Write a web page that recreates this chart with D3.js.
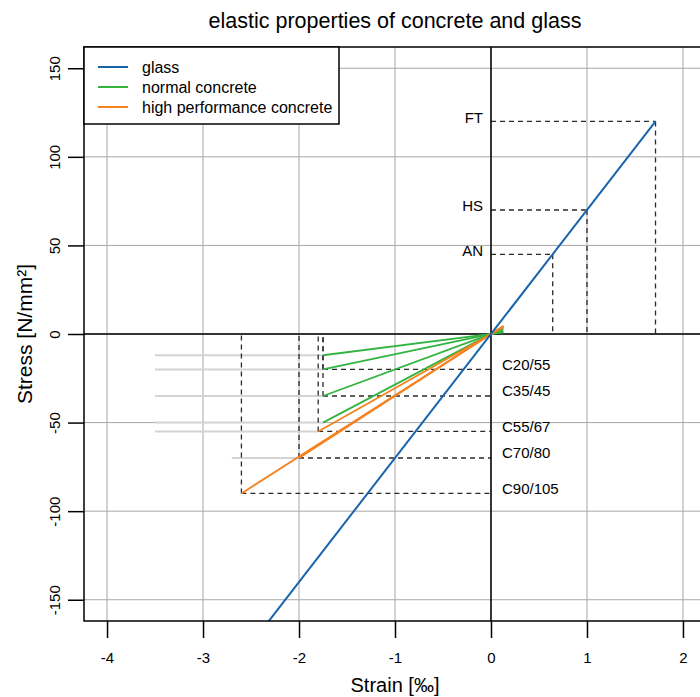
<!DOCTYPE html>
<html>
<head>
<meta charset="utf-8">
<script src="https://cdn.jsdelivr.net/npm/d3@7"></script>
<style>
  body { margin: 0; background: #fff; }
  text { font-family: "Liberation Sans", Arial, sans-serif; fill: #000; }
</style>
</head>
<body>
<script>
// glass: breaking stress of annealed, heat strengthened and fully tempered glass
const glassNames = ["AN", "HS", "FT"];
const glassStress = [45, 70, 120];
const glassStrain = [0.643, 1.0, 1.714];
const glassLine = [[-3, -210], [1.714, 120]];

// concrete: strain / stress at end of elastic part, and ultimate strain
const concreteNames = ["", "C20/55", "C35/45", "", "C55/67", "C70/80", "C90/105"];
const concreteKind = ["normal", "normal", "normal", "normal", "high", "high", "high"];
const concreteStrain = [-1.75, -1.75, -1.75, -1.75, -1.8, -2.0, -2.6];
const concreteStress = [-12, -20, -35, -50, -55, -70, -90];
const concreteUltimate = [-3.5, -3.5, -3.5, -3.5, -3.5, -2.7, -2.6];
const tensionStrain = 0.13;

const xTicks = [-4, -3, -2, -1, 0, 1, 2];
const yTicks = [-150, -100, -50, 0, 50, 100, 150];

const colors = { glass: "#1864ab", normal: "#33b440", high: "#f5821f" };

const w = 700;
const h = 697;
const m = { left: 84, right: 706, top: 47, bottom: 621 };

const x = d3.scaleLinear().domain([-4.24, 2.24]).range([m.left, m.right]);
const y = d3.scaleLinear().domain([-162, 162]).range([m.bottom, m.top]);

const svg = d3.select("body").append("svg").attr("width", w).attr("height", h);

svg.append("clipPath").attr("id", "clip")
  .append("rect")
  .attr("x", m.left).attr("y", m.top)
  .attr("width", m.right - m.left).attr("height", m.bottom - m.top);

const plot = svg.append("g").attr("clip-path", "url(#clip)");

// grid
plot.selectAll(".vgrid")
  .data(xTicks)
  .enter()
  .append("line")
  .attr("x1", (d) => x(d)).attr("x2", (d) => x(d))
  .attr("y1", m.top).attr("y2", m.bottom)
  .attr("stroke", "#a6a6a6").attr("stroke-width", 1);

plot.selectAll(".hgrid")
  .data(yTicks)
  .enter()
  .append("line")
  .attr("x1", m.left).attr("x2", m.right)
  .attr("y1", (d) => y(d)).attr("y2", (d) => y(d))
  .attr("stroke", "#a6a6a6").attr("stroke-width", 1);

// plateau lines of concrete
const idx = d3.range(concreteStress.length);

plot.selectAll(".plateau")
  .data(idx.filter((i) => concreteUltimate[i] < concreteStrain[i]))
  .enter()
  .append("line")
  .attr("x1", (i) => x(concreteUltimate[i]))
  .attr("x2", (i) => x(concreteStrain[i]))
  .attr("y1", (i) => y(concreteStress[i]))
  .attr("y2", (i) => y(concreteStress[i]))
  .attr("stroke", "#d4d4d4").attr("stroke-width", 2);

// dashed guides for glass
const dash = { stroke: "#2a2a2a", width: 1.3, array: "5,4" };

glassStress.forEach((s, i) => {
  plot.append("line")
    .attr("x1", x(0)).attr("x2", x(glassStrain[i]))
    .attr("y1", y(s)).attr("y2", y(s))
    .attr("stroke", dash.stroke).attr("stroke-width", dash.width)
    .attr("stroke-dasharray", dash.array);
  plot.append("line")
    .attr("x1", x(glassStrain[i])).attr("x2", x(glassStrain[i]))
    .attr("y1", y(s)).attr("y2", y(0))
    .attr("stroke", dash.stroke).attr("stroke-width", dash.width)
    .attr("stroke-dasharray", dash.array);
});

// dashed guides for labelled concrete
idx.filter((i) => concreteNames[i] !== "").forEach((i) => {
  plot.append("line")
    .attr("x1", x(concreteStrain[i])).attr("x2", x(0))
    .attr("y1", y(concreteStress[i])).attr("y2", y(concreteStress[i]))
    .attr("stroke", dash.stroke).attr("stroke-width", dash.width)
    .attr("stroke-dasharray", dash.array);
  plot.append("line")
    .attr("x1", x(concreteStrain[i])).attr("x2", x(concreteStrain[i]))
    .attr("y1", y(concreteStress[i])).attr("y2", y(0))
    .attr("stroke", dash.stroke).attr("stroke-width", dash.width)
    .attr("stroke-dasharray", dash.array);
});

// zero axes
plot.append("line")
  .attr("x1", m.left).attr("x2", m.right).attr("y1", y(0)).attr("y2", y(0))
  .attr("stroke", "#000").attr("stroke-width", 1.5);
plot.append("line")
  .attr("x1", x(0)).attr("x2", x(0)).attr("y1", m.top).attr("y2", m.bottom)
  .attr("stroke", "#000").attr("stroke-width", 1.5);

// concrete lines
const line = d3.line().x((d) => x(d[0])).y((d) => y(d[1]));

plot.selectAll(".concrete")
  .data(idx)
  .enter()
  .append("path")
  .attr("d", (i) => {
    const slope = concreteStress[i] / concreteStrain[i];
    return line([[concreteStrain[i], concreteStress[i]], [tensionStrain, tensionStrain * slope]]);
  })
  .attr("fill", "none")
  .attr("stroke", (i) => colors[concreteKind[i]])
  .attr("stroke-width", 1.8);

// glass line
plot.append("path")
  .attr("d", line(glassLine))
  .attr("fill", "none")
  .attr("stroke", colors.glass)
  .attr("stroke-width", 2);

// labels
svg.selectAll(".glabel")
  .data(glassNames)
  .enter()
  .append("text")
  .attr("x", x(0) - 8)
  .attr("y", (d, i) => y(glassStress[i]) - 4)
  .attr("dy", "0.35em")
  .attr("text-anchor", "end")
  .style("font-size", "15px")
  .text((d) => d);

svg.selectAll(".clabel")
  .data(idx.filter((i) => concreteNames[i] !== ""))
  .enter()
  .append("text")
  .attr("x", x(0) + 11)
  .attr("y", (i) => y(concreteStress[i]) - 5)
  .attr("dy", "0.35em")
  .style("font-size", "15px")
  .text((i) => concreteNames[i]);

// axes
const xAxis = svg.append("g")
  .attr("transform", `translate(0,${m.bottom})`)
  .call(d3.axisBottom(x).tickValues(xTicks).tickSize(17).tickPadding(14).tickFormat((d) => String(d)));
xAxis.select(".domain").remove();
xAxis.selectAll("line").attr("stroke", "#000").attr("stroke-width", 1.5);
xAxis.selectAll("text").style("font-size", "15px").style("font-family", "Liberation Sans, Arial, sans-serif");

const yAxis = svg.append("g")
  .attr("transform", `translate(${m.left},0)`)
  .call(d3.axisLeft(y).tickValues(yTicks).tickSize(16).tickFormat((d) => String(d)));
yAxis.select(".domain").remove();
yAxis.selectAll("line").attr("stroke", "#000").attr("stroke-width", 1.5);
yAxis.selectAll("text")
  .attr("x", 0)
  .attr("dy", "0.35em")
  .attr("text-anchor", "middle")
  .attr("transform", "translate(-29,0) rotate(-90)")
  .style("font-size", "15px")
  .style("font-family", "Liberation Sans, Arial, sans-serif");

// plot border
svg.append("rect")
  .attr("x", m.left).attr("y", m.top)
  .attr("width", m.right - m.left).attr("height", m.bottom - m.top)
  .attr("fill", "none").attr("stroke", "#000").attr("stroke-width", 1.5);

// legend
const legend = svg.append("g");
legend.append("rect")
  .attr("x", m.left).attr("y", m.top)
  .attr("width", 255).attr("height", 77)
  .attr("fill", "#fff").attr("stroke", "#000").attr("stroke-width", 1.5);

const legendNames = ["glass", "normal concrete", "high performance concrete"];
const legendKeys = ["glass", "normal", "high"];

legendNames.forEach((name, i) => {
  legend.append("line")
    .attr("x1", 98).attr("x2", 128)
    .attr("y1", 67 + i * 20).attr("y2", 67 + i * 20)
    .attr("stroke", colors[legendKeys[i]]).attr("stroke-width", 2);
  legend.append("text")
    .attr("x", 142).attr("y", 67 + i * 20)
    .attr("dy", "0.35em")
    .style("font-size", "16px")
    .text(name);
});

// titles
svg.append("text")
  .attr("x", (m.left + m.right) / 2).attr("y", 20)
  .attr("dy", "0.35em")
  .attr("text-anchor", "middle")
  .style("font-size", "21.5px")
  .text("elastic properties of concrete and glass");

svg.append("text")
  .attr("x", (m.left + m.right) / 2).attr("y", 685)
  .attr("dy", "0.35em")
  .attr("text-anchor", "middle")
  .style("font-size", "20px")
  .text("Strain [‰]");

svg.append("text")
  .attr("transform", `translate(25,${(m.top + m.bottom) / 2}) rotate(-90)`)
  .attr("dy", "0.35em")
  .attr("text-anchor", "middle")
  .style("font-size", "21px")
  .text("Stress [N/mm²]");
</script>
</body>
</html>
